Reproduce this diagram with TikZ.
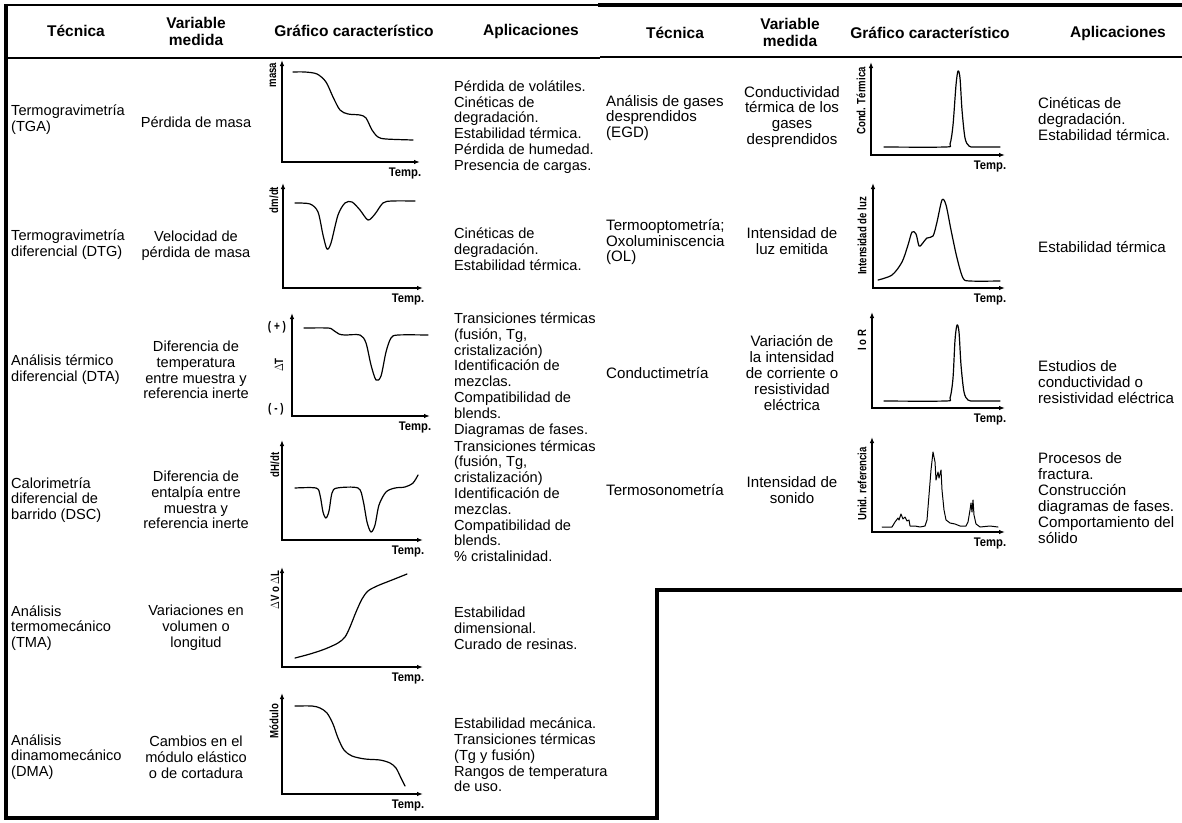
\documentclass[tikz,border=0pt]{standalone}
\usepackage{fontspec}
\setmainfont{Liberation Sans}
\usepackage{tikz}
\usetikzlibrary{arrows.meta}

\newcommand{\cond}[1]{\scalebox{0.9}[1]{#1}}
\newcommand{\narrow}[1]{\scalebox{0.8}[1]{#1}}

\begin{document}
\begin{tikzpicture}[
			x=1pt,y=-1pt,
			font=\fontsize{14.6}{15.8}\selectfont,
			txt/.style={align=left,inner sep=0pt,anchor=west},
			ctr/.style={align=center,inner sep=0pt},
			big/.style={font=\fontsize{15.1}{15.9}\selectfont},
			hdr/.style={align=center,inner sep=0pt,font=\fontsize{15.5}{17}\selectfont\bfseries},
			axlab/.style={inner sep=0pt,font=\fontsize{12.5}{13}\selectfont\bfseries},
			ylab/.style={inner sep=0pt,rotate=90,font=\fontsize{12}{12}\selectfont\bfseries},
			axis/.style={line width=1.2pt,{Latex[length=6pt,width=4.5pt]}-{Latex[length=6pt,width=4.5pt]}},
			curve/.style={line width=1.2pt,line join=round,line cap=round},
			frame/.style={line width=3.5pt}
			]
			
			\useasboundingbox (0,0) rectangle (1182,822);
			
			% borders
			\draw[line width=2pt] (5,5) -- (600,5);
			\draw[line width=4pt] (598,5) -- (1182,5);
			\draw[line width=1.5pt] (6,58) -- (600,58);
			\draw[line width=2.5pt] (600,57) -- (1182,57);
			\draw[frame] (6,4) -- (6,818) -- (657,818) -- (657,590) -- (1182,590);
			
			% headers
			\node[hdr] (hTecL) at (76,31) {Técnica};
			\node[hdr] (hVarL) at (196,31) {Variable\\medida};
			\node[hdr] (hGraL) at (354,31) {Gráfico característico};
			\node[hdr] (hAppL) at (531,31) {Aplicaciones};
			\node[hdr] (hTecR) at (675,33) {Técnica};
			\node[hdr] (hVarR) at (790,32) {Variable\\medida};
			\node[hdr] (hGraR) at (930,33) {Gráfico característico};
			\node[hdr] (hAppR) at (1118,33) {Aplicaciones};
			
			% left table
			\node[txt] (tgaTec) at (11,120) {Termogravimetría\\(TGA)};
			\node[ctr] (tgaVar) at (196,122) {Pérdida de masa};
			\node[txt] (tgaApp) at (454,127) {Pérdida de volátiles.\\Cinéticas de\\degradación.\\Estabilidad térmica.\\Pérdida de humedad.\\Presencia de cargas.};
			
			\node[txt] (dtgTec) at (11,245) {Termogravimetría\\diferencial (DTG)};
			\node[ctr] (dtgVar) at (196,246) {Velocidad de\\pérdida de masa};
			\node[txt] (dtgApp) at (454,249) {Cinéticas de\\degradación.\\Estabilidad térmica.};
			
			\node[txt] (dtaTec) at (11,370) {Análisis térmico\\diferencial (DTA)};
			\node[ctr] (dtaVar) at (196,370) {Diferencia de\\temperatura\\entre muestra y\\referencia inerte};
			\node[txt] (dtaApp) at (454,375) {Transiciones térmicas\\(fusión, Tg,\\cristalización)\\Identificación de\\mezclas.\\Compatibilidad de\\blends.\\Diagramas de fases.};
			
			\node[txt] (dscTec) at (11,500) {Calorimetría\\diferencial de\\barrido (DSC)};
			\node[ctr] (dscVar) at (196,500) {Diferencia de\\entalpía entre\\muestra y\\referencia inerte};
			\node[txt] (dscApp) at (454,501) {Transiciones térmicas\\(fusión, Tg,\\cristalización)\\Identificación de\\mezclas.\\Compatibilidad de\\blends.\\\% cristalinidad.};
			
			\node[txt] (tmaTec) at (11,628) {Análisis\\termomecánico\\(TMA)};
			\node[ctr] (tmaVar) at (196,628) {Variaciones en\\volumen o\\longitud};
			\node[txt] (tmaApp) at (454,628) {Estabilidad\\dimensional.\\Curado de resinas.};
			
			\node[txt] (dmaTec) at (11,757) {Análisis\\dinamomecánico\\(DMA)};
			\node[ctr] (dmaVar) at (196,757) {Cambios en el\\módulo elástico\\o de cortadura};
			\node[txt] (dmaApp) at (454,755) {Estabilidad mecánica.\\Transiciones térmicas\\(Tg y fusión)\\Rangos de temperatura\\de uso.};
			
			% right table
			\node[txt,big] (egdTec) at (606,118) {Análisis de gases\\desprendidos\\(EGD)};
			\node[ctr,big] (egdVar) at (792,117) {Conductividad\\térmica de los\\gases\\desprendidos};
			\node[txt,big] (egdApp) at (1038,119) {Cinéticas de\\degradación.\\Estabilidad térmica.};
			
			\node[txt,big] (olTec) at (606,242) {Termooptometría;\\Oxoluminiscencia\\(OL)};
			\node[ctr,big] (olVar) at (792,241) {Intensidad de\\luz emitida};
			\node[txt,big] (olApp) at (1038,247) {Estabilidad térmica};
			
			\node[txt,big] (conTec) at (606,373) {Conductimetría};
			\node[ctr,big] (conVar) at (792,373) {Variación de\\la intensidad\\de corriente o\\resistividad\\eléctrica};
			\node[txt,big] (conApp) at (1038,382) {Estudios de\\conductividad o\\resistividad eléctrica};
			
			\node[txt,big] (sonTec) at (606,490) {Termosonometría};
			\node[ctr,big] (sonVar) at (792,490) {Intensidad de\\sonido};
			\node[txt,big] (sonApp) at (1038,498) {Procesos de\\fractura.\\Construcción\\diagramas de fases.\\Comportamiento del\\sólido};
			
			% axes
			\foreach \n/\ox/\oy/\tp/\rt in {tga/282/162/60/420, dtg/283/288/183/423, dta/292/416/313/430,
				dsc/282/540/440/423, tma/282/667/567/423, dma/282/794/693/423,
				egd/871/155/62/1005, ol/873/288/183/1005, con/872/408/312/1005, son/872/532/437/1005}{
				\draw[axis] (\ox,\tp) -- (\ox,\oy) -- (\rt,\oy);
				\node[axlab] (\n-temp) at (\rt-15,\oy+11) {\cond{Temp.}};
			}
			
			% axis labels
			\node[ylab] (tgaY) at (273,75) {\narrow{masa}};
			\node[ylab] (dtgY) at (274,200) {\narrow{dm/dt}};
			\node[ylab] (dtaY) at (279,365) {\narrow{$\Delta$T}};
			\node[axlab] (dtaPlus) at (277,327) {\narrow{( + )}};
			\node[axlab] (dtaMinus) at (276,409) {\narrow{( - )}};
			\node[ylab] (dscY) at (275,465) {\narrow{dH/dt}};
			\node[ylab] (tmaY) at (275,590) {\narrow{$\Delta$V o $\Delta$L}};
			\node[ylab] (dmaY) at (274,721) {\narrow{Módulo}};
			\node[ylab] (egdY) at (861,101) {\narrow{Cond. Térmica}};
			\node[ylab] (olY) at (862,236) {\narrow{Intensidad de luz}};
			\node[ylab] (conY) at (862,340) {\narrow{I o R}};
			\node[ylab] (sonY) at (862,484) {\narrow{Unid. referencia}};
			
			% curves
			\draw[curve] plot[smooth] coordinates {(293,72) (305,72) (317,74) (326,82) (333,97) (340,110) (348,114) (360,115) (366,118) (372,130) (378,137) (386,139) (413,140)};
			\draw[curve] plot[smooth] coordinates {(295,203) (310,204) (318,212) (323,235) (327,249) (331,243) (338,215) (345,203) (352,202) (360,210) (368,220) (375,214) (383,203) (392,201) (415,201)};
			\draw[curve] plot[smooth] coordinates {(304,328) (328,328) (333,330) (339,334) (345,335) (360,335) (366,343) (371,365) (376,380) (381,376) (386,352) (391,338) (398,335) (428,335)};
			\draw[curve] plot[smooth] coordinates {(295,488) (316,488) (320,495) (323,512) (326,518) (329,511) (332,493) (337,488) (358,488) (363,500) (367,522) (371,532) (375,525) (379,505) (386,492) (395,488) (405,487) (413,483) (418,475)};
			\draw[curve] plot[smooth] coordinates {(295,658) (310,654) (325,649) (338,643) (345,637) (350,627) (356,612) (362,599) (368,591) (377,586) (392,580) (407,574)};
			\draw[curve] plot[smooth] coordinates {(295,706) (312,706) (320,708) (327,713) (333,724) (338,738) (344,750) (352,756) (365,759) (380,760) (390,763) (396,768) (401,778) (405,786)};
			\draw[curve] plot[smooth] coordinates {(884,147) (945,147) (950,144) (953,125) (956,85) (958,71) (960,78) (962,110) (965,138) (969,146) (975,147) (1000,147)};
			\draw[curve] plot[smooth] coordinates {(878,280) (892,275) (902,262) (908,245) (912,232) (916,234) (919,246) (922,244) (927,238) (933,236) (937,222) (942,200) (946,205) (951,230) (957,258) (963,278) (970,281) (1000,281)};
			\draw[curve] plot[smooth] coordinates {(884,401) (945,401) (950,398) (953,378) (955,340) (957,325) (959,332) (961,365) (964,392) (968,400) (975,401) (1000,401)};
			\draw[curve,line width=1pt] (882,527) -- (892,527) -- (895,522) -- (898,518) -- (899,520) -- (901,514) -- (903,519) -- (905,517) -- (907,521) -- (909,520) -- (910,526) -- (915,526) -- (920,527) -- (925,526) -- (927,520) -- (929,495) -- (931,470) -- (933,452) -- (935,462) -- (936,480) -- (938,472) -- (939,478) -- (941,470) -- (942,490) -- (944,510) -- (946,520) -- (950,523) -- (955,524) -- (960,526) -- (966,526) -- (968,522) -- (970,510) -- (971,503) -- (972,512) -- (973,500) -- (974,515) -- (976,524) -- (980,527) -- (990,526) -- (998,527);
			
		\end{tikzpicture}
\end{document}
